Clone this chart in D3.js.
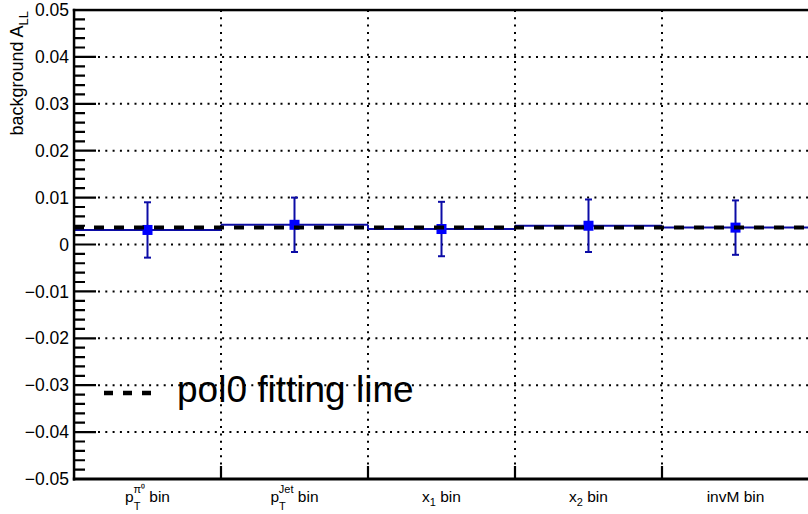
<!DOCTYPE html>
<html>
<head>
<meta charset="utf-8">
<script src="https://cdn.jsdelivr.net/npm/d3@7"></script>
<style>
  html, body { margin: 0; padding: 0; background: #fff; }
  svg { display: block; }
</style>
</head>
<body>
<script>
// bins and background A_LL values
const bins = ["pt_pi0", "pt_jet", "x1", "x2", "invM"];
const values = [0.0031, 0.0042, 0.0033, 0.0040, 0.0036];
const errors = [0.0059, 0.0058, 0.0058, 0.0056, 0.0058];
const fitValue = 0.0036;
const yTicks = [0.05, 0.04, 0.03, 0.02, 0.01, 0, -0.01, -0.02, -0.03, -0.04, -0.05];
const yMinorTicks = d3.range(-50, 51, 2).filter(v => v % 10 !== 0).map(v => v / 1000);

const width = 808, height = 514;
const margin = { left: 74, right: -1, top: 10, bottom: 35 };
const font = "Liberation Sans, Arial, sans-serif";

const svg = d3.select("body").append("svg")
  .attr("width", width)
  .attr("height", height)
  .attr("font-family", font);

const x = d3.scaleLinear().domain([0, bins.length]).range([margin.left, width - margin.right]);
const y = d3.scaleLinear().domain([-0.05, 0.05]).range([height - margin.bottom, margin.top]);

const lineBlue = "#0c0ca6";
const markBlue = "#0000ff";

// grid - dotted
const grid = svg.append("g");
grid.selectAll("line.h")
  .data(yTicks.filter(d => d > -0.05 && d < 0.05))
  .enter().append("line")
  .attr("x1", x(0) + 24).attr("x2", x(bins.length))
  .attr("y1", d => y(d)).attr("y2", d => y(d))
  .attr("stroke", "#000").attr("stroke-width", 2).attr("stroke-dasharray", "2,5.3");
grid.selectAll("line.v")
  .data(d3.range(1, bins.length))
  .enter().append("line")
  .attr("x1", d => x(d)).attr("x2", d => x(d))
  .attr("y1", y(0.05)).attr("y2", y(-0.05) - 14)
  .attr("stroke", "#000").attr("stroke-width", 2).attr("stroke-dasharray", "2,5.3");

// y tick labels
svg.append("g").selectAll("text").data(yTicks).enter().append("text")
  .attr("x", x(0) - 5).attr("y", d => y(d)).attr("dy", "0.35em")
  .attr("text-anchor", "end").attr("font-size", 17.5).attr("fill", "#000")
  .text(d => d === 0 ? "0" : d3.format(".2f")(d).replace("-", "\u2212"));

// histogram steps
const data = bins.map((b, i) => ({ i: i, v: values[i], e: errors[i] }));
const pts = svg.append("g");
pts.selectAll("line.step").data(data).enter().append("line")
  .attr("x1", d => x(d.i)).attr("x2", d => x(d.i + 1))
  .attr("y1", d => y(d.v)).attr("y2", d => y(d.v))
  .attr("stroke", lineBlue).attr("stroke-width", 2);
// vertical connectors between steps
pts.selectAll("line.conn").data(data.slice(1)).enter().append("line")
  .attr("x1", d => x(d.i)).attr("x2", d => x(d.i))
  .attr("y1", d => y(values[d.i - 1])).attr("y2", d => y(d.v))
  .attr("stroke", lineBlue).attr("stroke-width", 2);

// fit line (dashed black)
svg.append("line")
  .attr("x1", x(0)).attr("x2", x(bins.length))
  .attr("y1", y(fitValue)).attr("y2", y(fitValue))
  .attr("stroke", "#000").attr("stroke-width", 4).attr("stroke-dasharray", "10,10");

// error bars
pts.selectAll("line.err").data(data).enter().append("line")
  .attr("x1", d => x(d.i + 0.5)).attr("x2", d => x(d.i + 0.5))
  .attr("y1", d => y(d.v + d.e)).attr("y2", d => y(d.v - d.e))
  .attr("stroke", lineBlue).attr("stroke-width", 2);
pts.selectAll("line.capT").data(data).enter().append("line")
  .attr("x1", d => x(d.i + 0.5) - 3.5).attr("x2", d => x(d.i + 0.5) + 3.5)
  .attr("y1", d => y(d.v + d.e)).attr("y2", d => y(d.v + d.e))
  .attr("stroke", lineBlue).attr("stroke-width", 2);
pts.selectAll("line.capB").data(data).enter().append("line")
  .attr("x1", d => x(d.i + 0.5) - 3.5).attr("x2", d => x(d.i + 0.5) + 3.5)
  .attr("y1", d => y(d.v - d.e)).attr("y2", d => y(d.v - d.e))
  .attr("stroke", lineBlue).attr("stroke-width", 2);
pts.selectAll("rect").data(data).enter().append("rect")
  .attr("x", d => x(d.i + 0.5) - 5).attr("y", d => y(d.v) - 5)
  .attr("width", 10).attr("height", 10).attr("fill", markBlue);

// bin labels
const lbl = svg.append("g").attr("font-size", 15.5).attr("fill", "#000");
function binLabel(i, parts) {
  const t = lbl.append("text").attr("x", x(i + 0.5)).attr("y", 502).attr("text-anchor", "middle");
  parts.forEach(p => {
    const s = t.append("tspan").text(p.t);
    if (p.dy) s.attr("dy", p.dy);
    if (p.dx) s.attr("dx", p.dx);
    if (p.fs) s.attr("font-size", p.fs);
  });
}
binLabel(0, [{ t: "p" }, { t: "T", dy: 8, fs: 11 }, { t: "\u03c0\u2070", dy: -17, dx: -7, fs: 11 }, { t: " bin", dy: 9 }]);
binLabel(1, [{ t: "p" }, { t: "T", dy: 8, fs: 11 }, { t: "Jet", dy: -17, dx: -7, fs: 11 }, { t: " bin", dy: 9 }]);
binLabel(2, [{ t: "x" }, { t: "1", dy: 4, fs: 11 }, { t: " bin", dy: -4 }]);
binLabel(3, [{ t: "x" }, { t: "2", dy: 4, fs: 11 }, { t: " bin", dy: -4 }]);
binLabel(4, [{ t: "invM bin" }]);

// y title
const yt = svg.append("text")
  .attr("transform", `translate(23,${y(0.05) + 1}) rotate(-90)`)
  .attr("text-anchor", "end").attr("font-size", 18).attr("fill", "#000");
yt.append("tspan").text("background A");
yt.append("tspan").text("LL").attr("font-size", 13).attr("dy", 5);

// legend
svg.append("line")
  .attr("x1", 104).attr("x2", 154).attr("y1", 393).attr("y2", 393)
  .attr("stroke", "#000").attr("stroke-width", 4.5).attr("stroke-dasharray", "9,10");
svg.append("text").attr("x", 177).attr("y", 402).attr("font-size", 37).attr("fill", "#000")
  .text("pol0 fitting line");

// frame
const frame = svg.append("g").attr("fill", "#000");
frame.append("rect").attr("x", x(0) - 1.2).attr("y", y(0.05) - 1.2)
  .attr("width", width - x(0) + 2).attr("height", 2.5);
frame.append("rect").attr("x", x(0) - 1.2).attr("y", y(-0.05) - 1.5)
  .attr("width", width - x(0) + 2).attr("height", 3);
frame.append("rect").attr("x", x(0) - 1.2).attr("y", y(0.05) - 1.2)
  .attr("width", 2.5).attr("height", y(-0.05) - y(0.05) + 2.7);

// ticks as one path, drawn last (major 22px, minor 11px, x ticks 13px)
const tp = d3.path();
yTicks.forEach(d => { tp.moveTo(x(0), y(d)); tp.lineTo(x(0) + 22, y(d)); });
yMinorTicks.forEach(d => { tp.moveTo(x(0), y(d)); tp.lineTo(x(0) + 11, y(d)); });
d3.range(1, bins.length).forEach(b => { tp.moveTo(x(b), y(-0.05)); tp.lineTo(x(b), y(-0.05) - 13); });
svg.append("path")
  .attr("d", tp.toString())
  .attr("fill", "none")
  .attr("stroke", "#000")
  .attr("stroke-width", 2.2);
</script>
</body>
</html>
